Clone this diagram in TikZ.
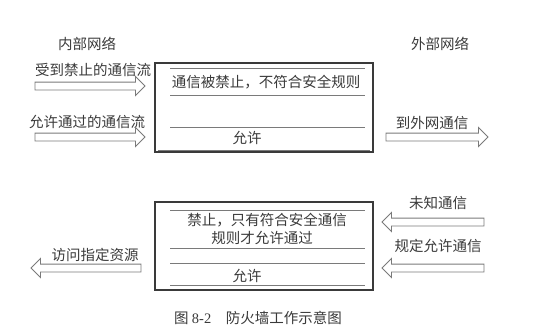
\documentclass[tikz,border=0pt]{standalone}
\usepackage{fontspec}
\setmainfont{Noto Sans CJK SC}
\newfontfamily\numfont{Liberation Serif}
\usetikzlibrary{shapes.arrows}
\definecolor{ink}{HTML}{3A3A3A}
\definecolor{lineg}{HTML}{7A7A7A}
\tikzset{
  lbl/.style={text=ink, font=\fontsize{14.5}{17}\selectfont, inner sep=0pt},
  fwbox/.style={draw=ink, line width=1.3pt, inner sep=0pt},
  rule/.style={draw=lineg, line width=0.9pt},
  harrow/.style={single arrow, draw=lineg, line width=0.9pt, fill=white,
     inner xsep=0pt, inner ysep=3.5pt, minimum height=110pt,
     single arrow head extend=5.5pt, single arrow head indent=0pt},
}
\begin{document}
\begin{tikzpicture}[x=1pt,y=-1pt]
\useasboundingbox (0,0) rectangle (554,333);
% headers
\node[lbl] (inner) at (87,44) {内部网络};
\node[lbl] (outer) at (440,44) {外部网络};
% top firewall box
\node[fwbox, minimum width=218pt, minimum height=89pt] (box1) at (264,107.5) {};
\draw[rule] (170,68) -- (365,68);
\node[lbl] (t1) at (266,82) {通信被禁止，不符合安全规则};
\draw[rule] (170,95) -- (365,95);
\draw[rule] (170,127) -- (365,127);
\node[lbl] (t2) at (247,138) {允许};
\draw[rule] (158,150) -- (370,150);
% top left arrows
\node[lbl] (l1) at (93,70) {受到禁止的通信流};
\node[harrow] (a1) at (88,86) {};
\node[lbl] (l2) at (87,122) {允许通过的通信流};
\node[harrow] (a2) at (88,137) {};
% top right arrow
\node[lbl] (r1) at (432,123) {到外网通信};
\node[harrow, minimum height=102pt] (a3) at (435,137) {};
% bottom firewall box
\node[fwbox, minimum width=218pt, minimum height=88pt] (box2) at (264,246) {};
\draw[rule] (170,210) -- (365,210);
\node[lbl] (t3) at (267,220) {禁止，只有符合安全通信};
\node[lbl] (t4) at (262,238) {规则才允许通过};
\draw[rule] (170,248) -- (365,248);
\draw[rule] (170,263) -- (365,263);
\node[lbl] (t5) at (247,276) {允许};
\draw[rule] (170,285) -- (365,285);
% bottom left arrow
\node[lbl] (l3) at (95,255) {访问指定资源};
\node[harrow, shape border rotate=180] (a4) at (88,268) {};
% bottom right arrows
\node[lbl] (r2) at (438,203) {未知通信};
\node[harrow, minimum height=102pt, shape border rotate=180] (a5) at (435,222) {};
\node[lbl] (r3) at (438,246) {规定允许通信};
\node[harrow, minimum height=102pt, shape border rotate=180] (a6) at (435,268) {};
% caption
\node[lbl] (cap) at (258,318) {图 {\numfont 8-2}\quad 防火墙工作示意图};
\end{tikzpicture}
\end{document}
